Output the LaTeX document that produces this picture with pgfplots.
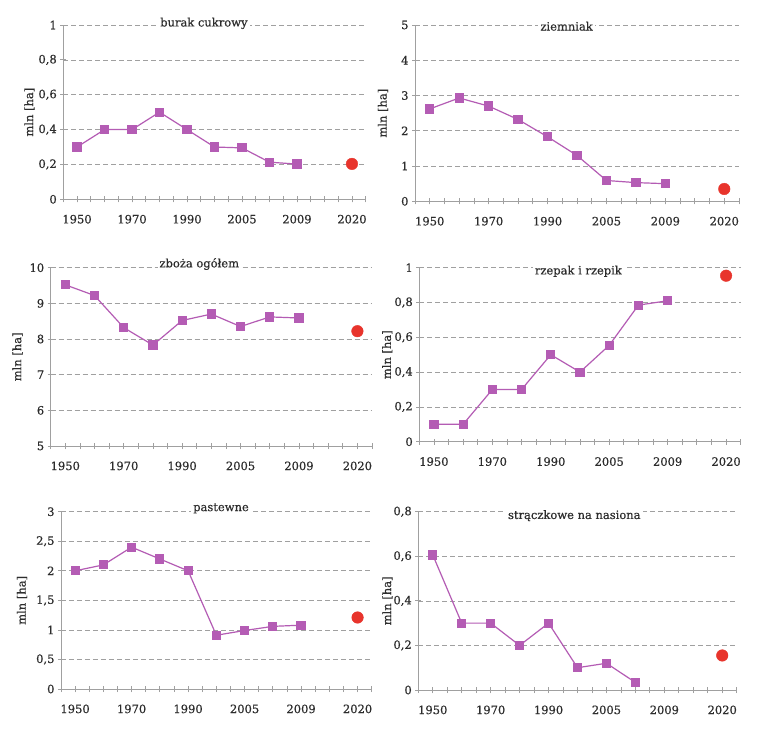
\documentclass[border=0pt]{standalone}
\usepackage{fontspec}
\setmainfont{DejaVu Serif}[FakeBold=0.5]
\usepackage{pgfplots}
\pgfplotsset{compat=1.18}
\definecolor{axgray}{RGB}{160,160,160}
\definecolor{txt}{RGB}{45,45,45}
\definecolor{lila}{RGB}{180,92,180}
\definecolor{dotred}{RGB}{232,52,44}
\newcommand\lf{\fontsize{11.5}{13}\selectfont}

\pgfplotsset{
  panel/.style={
    scale only axis, anchor=south west, clip=false,
    xmin=-0.5, xmax=10.5,
    xtick={0,2,...,10},
    xticklabels={1950,1970,1990,2005,2009,2020},
    minor xtick={-0.5,0,...,10.5},
    axis x line*=bottom, axis y line*=left,
    axis line style={draw=axgray, line width=0.8pt, -},
    tick align=center, major tick length=6pt, minor tick length=6pt,
    tick style={draw=axgray, line width=0.8pt},
    ymajorgrids,
    grid style={draw=axgray, line width=0.7pt, dash pattern=on 5pt off 3pt},
    ticklabel style={font=\lf, text=txt},
    xticklabel style={yshift=-9pt},
    yticklabel style={/pgf/number format/.cd, use comma, fixed, assume math mode=true},
    ylabel={mln [ha]},
    ylabel style={font=\lf, text=txt, anchor=center},
    title style={font=\lf, text=txt, fill=white, inner sep=2pt, anchor=center},
  },
  series/.style={color=lila, line width=1.2pt, mark=square*, mark size=4pt, mark options={solid}},
  target/.style={only marks, mark=*, mark size=5.8pt, color=dotred},
}

\begin{document}
\begin{tikzpicture}
\useasboundingbox (0pt,0pt) rectangle (764pt,-736pt);
\fill[white] (0pt,0pt) rectangle (764pt,-736pt);

% burak cukrowy
\begin{axis}[panel, at={(63.3pt,-199.3pt)}, width=302.4pt, height=174.3pt,
  ymin=0, ymax=1, ytick={0,0.2,0.4,0.6,0.8,1},
  ylabel style={at={(axis description cs:-0.112,0.5)}},
  title={burak cukrowy}, title style={at={(rel axis cs:0.465,0.975)}}]
\addplot[series] coordinates {(0,0.30) (1,0.40) (2,0.40) (3,0.50) (4,0.40) (5,0.30) (6,0.295) (7,0.213) (8,0.202)};
\addplot[target] coordinates {(10,0.203)};
\end{axis}

% ziemniak
\begin{axis}[panel, at={(415pt,-201.3pt)}, width=324pt, height=176.3pt,
  ymin=0, ymax=5, ytick={0,1,2,3,4,5},
  ylabel style={at={(axis description cs:-0.099,0.5)}},
  title={ziemniak}, title style={at={(rel axis cs:0.468,0.959)}}]
\addplot[series] coordinates {(0,2.62) (1,2.93) (2,2.70) (3,2.32) (4,1.83) (5,1.30) (6,0.59) (7,0.53) (8,0.50)};
\addplot[target] coordinates {(10,0.35)};
\end{axis}

% zboza ogolem
\begin{axis}[panel, at={(50.7pt,-446pt)}, width=321.3pt, height=178.3pt,
  ymin=5, ymax=10, ytick={5,6,7,8,9,10},
  ylabel style={at={(axis description cs:-0.103,0.5)}},
  title={zboża ogółem}, title style={at={(rel axis cs:0.4625,0.987)}}]
\addplot[series] coordinates {(0,9.52) (1,9.22) (2,8.32) (3,7.83) (4,8.52) (5,8.70) (6,8.35) (7,8.62) (8,8.59)};
\addplot[target] coordinates {(10,8.22)};
\end{axis}

% rzepak i rzepik
\begin{axis}[panel, at={(419.3pt,-441.7pt)}, width=321.4pt, height=174pt,
  ymin=0, ymax=1, ytick={0,0.2,0.4,0.6,0.8,1},
  ylabel style={at={(axis description cs:-0.0996,0.5)}},
  title={rzepak i rzepik}, title style={at={(rel axis cs:0.495,0.945)}}]
\addplot[series] coordinates {(0,0.10) (1,0.10) (2,0.30) (3,0.30) (4,0.50) (5,0.40) (6,0.554) (7,0.785) (8,0.81)};
\addplot[target] coordinates {(10,0.954)};
\end{axis}

% pastewne
\begin{axis}[panel, at={(61pt,-689pt)}, width=310.7pt, height=177.3pt,
  ymin=0, ymax=3, ytick={0,0.5,1,1.5,2,2.5,3},
  ylabel style={at={(axis description cs:-0.1255,0.5)}},
  title={pastewne}, title style={at={(rel axis cs:0.515,0.985)}}]
\addplot[series] coordinates {(0,2.0) (1,2.1) (2,2.4) (3,2.2) (4,2.0) (5,0.91) (6,0.99) (7,1.06) (8,1.08)};
\addplot[target] coordinates {(10,1.21)};
\end{axis}

% straczkowe na nasiona
\begin{axis}[panel, at={(418.3pt,-690pt)}, width=318.4pt, height=178.3pt,
  ymin=0, ymax=0.8, ytick={0,0.2,0.4,0.6,0.8},
  ylabel style={at={(axis description cs:-0.097,0.5)}},
  title={strączkowe na nasiona}, title style={at={(rel axis cs:0.49,0.944)}}]
\addplot[series] coordinates {(0,0.606) (1,0.30) (2,0.30) (3,0.20) (4,0.30) (5,0.10) (6,0.12) (7,0.034)};
\addplot[target] coordinates {(10,0.155)};
\end{axis}
\end{tikzpicture}
\end{document}
